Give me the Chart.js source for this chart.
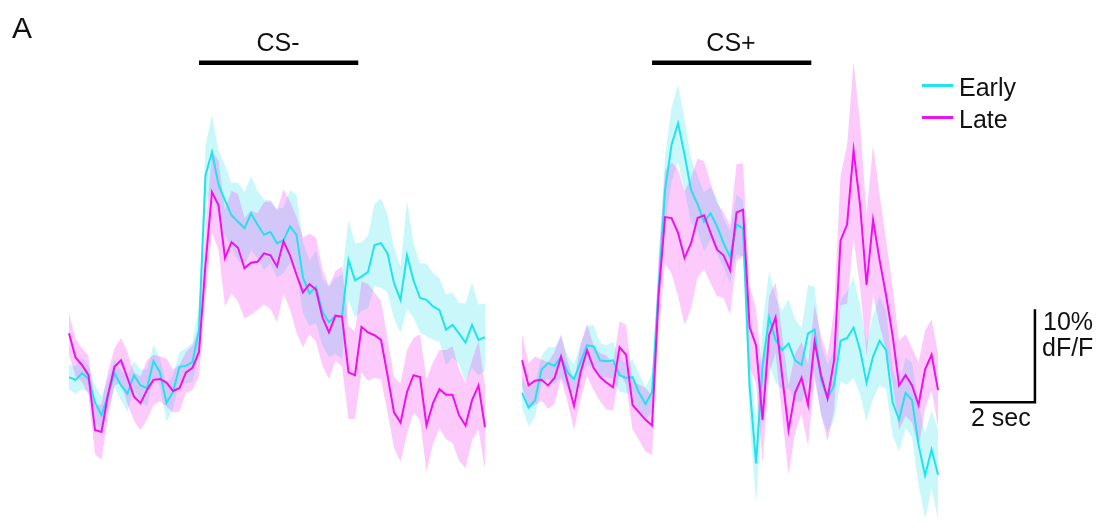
<!DOCTYPE html>
<html>
<head>
<meta charset="utf-8">
<script src="https://cdn.jsdelivr.net/npm/chart.js@4.4.1/dist/chart.umd.min.js"></script>
<style>
  html, body { margin: 0; padding: 0; background: #fff; }
  #wrap { position: relative; width: 1097px; height: 529px; overflow: hidden; font-family: 'Liberation Sans', Arial, sans-serif; color: #111; }
  #plot { position: absolute; left: 0; top: 0; }
  .lbl { position: absolute; font-size: 25px; line-height: 1; white-space: nowrap; }
  .center { width: 100px; text-align: center; }
  .leg-line { position: absolute; width: 31px; height: 3px; }
</style>
</head>
<body>
<div id="wrap">
  <canvas id="plot" width="1097" height="529"></canvas>
  <div class="lbl" style="left:12px; top:13px; font-size:30px;">A</div>
  <div class="lbl center" style="left:228px; top:30px;">CS-</div>
  <div class="lbl center" style="left:681px; top:30px;">CS+</div>
  <div class="leg-line" style="left:922px; top:84px; background:#20e3ec;"></div>
  <div class="lbl" style="left:959px; top:75px;">Early</div>
  <div class="leg-line" style="left:922px; top:116px; background:#ee11ee;"></div>
  <div class="lbl" style="left:959px; top:107px;">Late</div>
  <div class="lbl" style="left:1043px; top:309px;">10%</div>
  <div class="lbl" style="left:1042px; top:335px;">dF/F</div>
  <div class="lbl" style="left:971px; top:405px;">2 sec</div>
</div>
<script>
/* ── Data (time in s relative to CS onset, dF/F in %) ── */
const times = [-4,-3.8,-3.6,-3.4,-3.2,-3,-2.8,-2.6,-2.4,-2.2,-2,-1.8,-1.6,-1.4,-1.2,-1,-0.8,-0.6,-0.4,-0.2,
  0,0.2,0.4,0.6,0.8,1,1.2,1.4,1.6,1.8,2,2.2,2.4,2.6,2.8,3,3.2,3.4,3.6,3.8,4,4.2,4.4,4.6,4.8,
  5,5.2,5.4,5.6,5.8,6,6.2,6.4,6.6,6.8,7,7.2,7.4,7.6,7.8,8,8.2,8.4,8.6,8.8];

const earlyCSminus = [0.1,-0.2,0.5,-0.1,-2.6,-4.0,-1.8,0.5,-0.8,-1.7,0.3,-0.8,-1.1,1.8,0.6,-2.7,-1.5,1.2,1.3,1.7,
  5.2,21.8,24.3,20.8,19.1,17.5,16.8,16.1,17.7,16.5,15.4,15.7,14.5,14.8,16.3,15.4,10.8,9.1,9.8,7.1,
  6.0,6.7,6.6,12.7,10.5,10.9,11.4,14.3,14.5,13.4,10.2,8.4,13.2,10.5,8.6,8.4,7.7,7.3,5.2,5.7,
  4.8,3.8,5.7,4.1,4.4];
const lateCSminus = [4.8,2.2,1.4,0.3,-5.6,-5.8,-1.8,1.2,1.9,0.0,-2.0,-2.7,-1.3,-0.2,-0.1,-0.5,-1.4,-1.1,0.6,1.1,
  2.8,12.2,20.0,18.6,12.9,14.6,14.0,11.8,12.4,12.5,13.4,13.2,12.0,14.7,13.2,11.1,9.2,10.1,9.5,6.5,
  4.9,6.7,6.6,0.6,0.3,5.5,4.9,4.6,4.1,0.3,-3.7,-4.8,-1.5,0.3,0.1,-5.1,-2.7,-1.2,-1.8,-1.8,
  -4.0,-5.1,-2.4,-0.8,-5.3];
const earlyCSplus = [-1.6,-3.2,-2.4,0.9,1.6,1.3,2.3,0.6,-0.1,1.7,3.5,3.4,1.9,1.8,1.9,0.3,0.0,0.1,-1.6,-2.8,
  -1.5,9.5,20.2,25.1,27.4,24.0,20.2,18.7,16.8,17.7,16.3,14.5,13.0,16.5,16.1,-0.8,-9.2,1.4,6.5,4.1,
  3.0,3.7,1.9,1.4,4.8,5.2,-0.2,-2.2,-0.8,4.0,4.3,5.4,3.0,-0.5,2.3,4.0,3.0,-2.6,-4.5,-1.6,
  -2.4,-7.2,-10.5,-7.7,-10.4];
const lateCSplus = [1.9,-0.8,-0.3,-0.2,-0.8,0.0,2.3,-0.4,-3.0,0.6,3.0,1.1,0.1,-0.5,-1.0,3.3,2.5,-2.9,-3.7,-4.5,
  -5.1,8.9,17.3,17.2,15.6,12.9,14.5,17.2,17.5,15.6,13.8,13.2,11.6,17.8,18.1,5.5,3.5,-4.5,4.6,6.5,
  0.3,-5.6,-1.6,0.0,-2.9,3.9,0.3,-2.2,1.9,14.8,16.5,24.5,18.6,10.0,17.0,12.7,8.9,4.6,-0.8,0.3,
  -0.8,-2.9,0.9,2.5,-1.3];

// SEM half-widths (%)
const earlySemMinus = [1.3,1.5,1.7,1.4,1.8,2.0,1.7,1.5,1.6,1.9,1.5,1.7,2.0,1.8,1.5,2.0,1.8,1.6,1.9,2.1,
  2.6,3.2,4.0,3.6,3.8,3.5,4.2,3.9,4.0,3.6,3.8,3.4,3.7,3.5,3.9,4.3,3.8,3.5,3.9,3.6,
  3.8,4.1,4.5,4.3,4.0,3.7,3.9,4.4,4.8,4.2,3.8,3.6,5.8,4.0,3.7,3.9,3.6,3.4,3.8,3.5,
  3.3,4.2,4.6,3.8,3.6];
const lateSemMinus = [2.2,2.0,1.8,2.1,2.6,3.0,2.5,2.0,2.4,2.8,2.6,2.9,3.2,2.7,2.4,2.6,2.3,2.5,2.2,2.4,
  2.6,3.6,4.4,4.8,5.2,5.5,5.8,5.4,5.6,5.2,5.5,5.8,6.0,5.6,5.8,6.2,5.9,5.4,5.6,5.2,
  5.0,4.8,5.4,5.0,4.7,4.9,5.2,4.6,4.2,4.0,3.8,4.2,4.5,4.0,4.6,5.0,4.4,4.2,4.8,5.2,
  4.9,4.6,4.3,4.8,4.5];
const earlySemPlus = [1.6,2.0,1.8,1.5,1.7,2.0,2.2,1.8,1.6,1.9,2.1,2.3,1.9,1.7,2.0,1.8,1.6,1.9,2.1,1.8,
  2.0,3.0,3.6,4.0,4.2,3.8,3.4,3.0,3.2,2.8,3.0,2.6,2.8,3.2,3.0,3.8,4.2,4.5,5.0,4.6,
  4.2,4.8,4.4,4.0,5.2,4.6,3.8,3.6,3.8,4.4,5.0,5.4,4.8,4.2,4.5,4.8,4.2,3.6,3.4,3.8,
  4.0,4.4,4.6,4.2,4.8];
const lateSemPlus = [2.8,2.4,2.6,2.2,2.5,2.8,2.4,2.2,2.6,3.0,2.8,2.4,2.6,2.9,2.5,2.8,3.2,2.6,3.0,3.4,
  3.2,4.0,5.0,6.0,6.8,7.2,7.0,6.4,5.8,5.4,5.0,4.6,4.8,5.2,5.0,4.4,4.0,4.6,4.2,3.8,
  4.4,4.8,4.2,3.9,4.4,4.0,4.2,4.6,5.4,7.0,8.5,9.5,8.8,7.6,8.0,7.0,6.0,5.2,4.8,4.4,
  4.0,4.6,4.2,3.8,4.0];

const csWindow = [0, 4.9];        // stimulus on / off (s)
const scaleBar = { sec: 2, pct: 10 };

/* ── Layout (axis units) ── */
const panelOffset = 13.94;        // right panel shift on the shared x axis
const stimLevel = 33.9;           // height of the CS bars
const scaleCorner = { x: 25.72, y: -2.6 };

const CYAN = '#20e3ec';
const MAGENTA = '#ee11ee';
const CYAN_FILL = 'rgba(32, 227, 236, 0.24)';
const MAGENTA_FILL = 'rgba(240, 20, 240, 0.22)';

function pts(values, shift) {
    return values.map((v, i) => ({ x: times[i] + shift, y: v }));
}

function band(mean, sem, shift, color, order) {
    return [
        { data: mean.map((v, i) => ({ x: times[i] + shift, y: v + sem[i] })),
          borderWidth: 0, pointRadius: 0, fill: '+1', backgroundColor: color, order: order },
        { data: mean.map((v, i) => ({ x: times[i] + shift, y: v - sem[i] })),
          borderWidth: 0, pointRadius: 0, fill: false, order: order }
    ];
}

function trace(values, shift, color, order) {
    return { data: pts(values, shift), borderColor: color, borderWidth: 2,
             pointRadius: 0, fill: false, order: order };
}

function blackLine(points, width) {
    return { data: points, borderColor: '#000', borderWidth: width, pointRadius: 0,
             fill: false, borderCapStyle: 'butt', order: 0 };
}

const datasets = [
    ...band(earlyCSminus, earlySemMinus, 0, CYAN_FILL, 5),
    ...band(lateCSminus, lateSemMinus, 0, MAGENTA_FILL, 4),
    ...band(earlyCSplus, earlySemPlus, panelOffset, CYAN_FILL, 5),
    ...band(lateCSplus, lateSemPlus, panelOffset, MAGENTA_FILL, 4),
    trace(earlyCSminus, 0, CYAN, 2),
    trace(lateCSminus, 0, MAGENTA, 1),
    trace(earlyCSplus, panelOffset, CYAN, 2),
    trace(lateCSplus, panelOffset, MAGENTA, 1),
    blackLine([{ x: csWindow[0], y: stimLevel }, { x: csWindow[1], y: stimLevel }], 4.5),
    blackLine([{ x: csWindow[0] + panelOffset, y: stimLevel }, { x: csWindow[1] + panelOffset, y: stimLevel }], 4.5),
    blackLine([
        { x: scaleCorner.x - scaleBar.sec, y: scaleCorner.y },
        { x: scaleCorner.x, y: scaleCorner.y },
        { x: scaleCorner.x, y: scaleCorner.y + scaleBar.pct }
    ], 2.5)
];

new Chart(document.getElementById('plot'), {
    type: 'line',
    data: { datasets: datasets },
    options: {
        responsive: false,
        animation: false,
        parsing: true,
        layout: { padding: 0 },
        elements: { line: { tension: 0 } },
        plugins: { legend: { display: false }, tooltip: { enabled: false } },
        scales: {
            x: { type: 'linear', display: false, min: -6.123, max: 27.63 },
            y: { type: 'linear', display: false, min: -16.24, max: 40.65 }
        }
    }
});
</script>
</body>
</html>
